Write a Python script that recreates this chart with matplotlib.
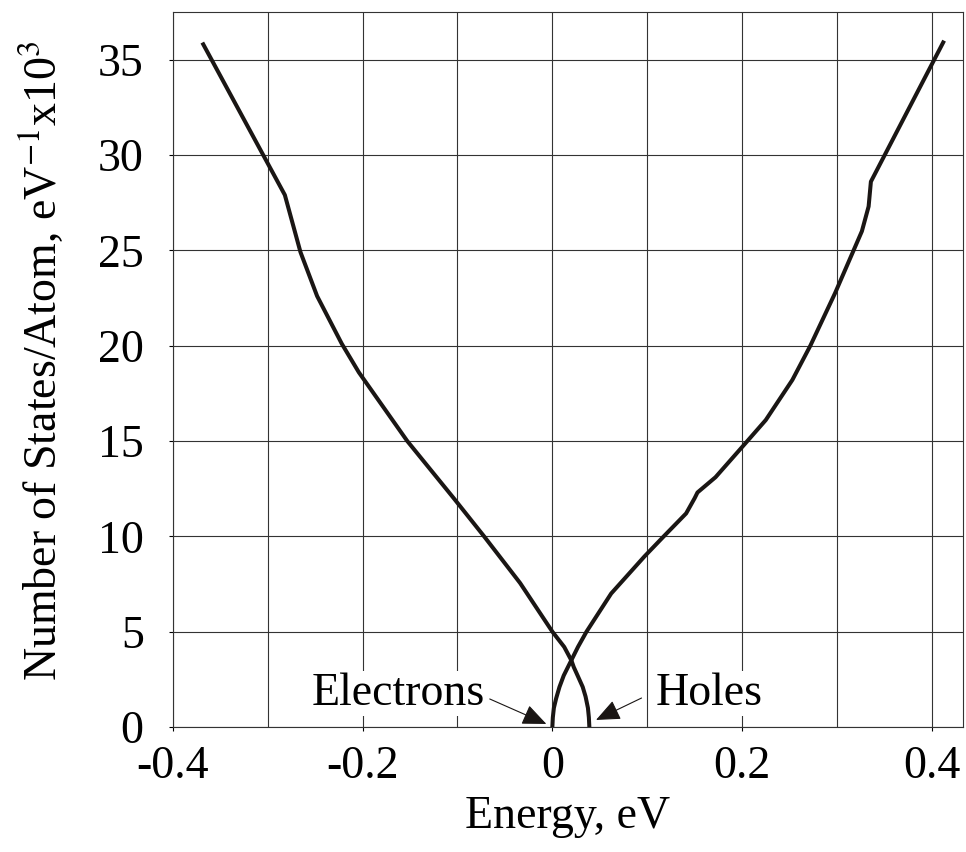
import numpy as np
import matplotlib
matplotlib.use("Agg")
import matplotlib.pyplot as plt

plt.rcParams["font.family"] = ["Liberation Serif", "DejaVu Serif"]
plt.rcParams["mathtext.fontset"] = "stix"

# electrons: starts at E=0, rises to the right
e_energy = [0.0, 0.0005, 0.0016, 0.004, 0.0075, 0.012, 0.0165, 0.020, 0.027,
            0.036, 0.062, 0.097, 0.1165, 0.141, 0.150, 0.153, 0.172, 0.203,
            0.225, 0.253, 0.272, 0.298, 0.3176, 0.3263, 0.3334, 0.3358, 0.412]
e_states = [0.0, 0.5, 1.0, 1.5, 2.1, 2.7, 3.15, 3.5, 4.2,
            5.0, 7.0, 8.94, 9.95, 11.2, 12.0, 12.3, 13.1, 14.85,
            16.1, 18.2, 20.0, 22.75, 25.0, 26.0, 27.3, 28.6, 35.9]

# holes: starts at E~0.039, rises to the left
h_energy = [0.039, 0.0385, 0.0375, 0.035, 0.032, 0.0275, 0.0225, 0.020, 0.0125,
            0.0, -0.034, -0.072, -0.104, -0.153, -0.204, -0.222, -0.248,
            -0.2655, -0.282, -0.368]
h_states = [0.0, 0.5, 1.0, 1.6, 2.1, 2.6, 3.15, 3.5, 4.2,
            5.0, 7.55, 10.0, 12.0, 15.0, 18.6, 20.1, 22.6,
            24.9, 27.9, 35.8]

x_ticks = [-0.4, -0.2, 0, 0.2, 0.4]
x_ticklabels = ["-0.4", "-0.2", "0", "0.2", "0.4"]
y_ticks = [0, 5, 10, 15, 20, 25, 30, 35]

fig = plt.figure(figsize=(9.66, 8.52), dpi=100)
ax = fig.add_axes([0.179, 0.1467, 0.818, 0.8393])

ax.plot(e_energy, e_states, color="#1a1614", lw=2.9, solid_joinstyle="round", zorder=3)
ax.plot(h_energy, h_states, color="#1a1614", lw=2.9, solid_joinstyle="round", zorder=3)

ax.set_xlim(-0.396, 0.433)
ax.set_ylim(0, 37.5)
ax.set_xticks(np.arange(-0.4, 0.45, 0.1), minor=True)
ax.set_xticks(x_ticks)
ax.set_xticklabels(x_ticklabels)
ax.set_yticks(y_ticks)
ax.grid(True, which="both", axis="x", color="#333333", lw=0.8)
ax.grid(True, axis="y", color="#333333", lw=0.8)
ax.set_axisbelow(True)
ax.tick_params(which="both", direction="out", length=3, width=0.8, labelsize=33)
ax.tick_params(axis="x", which="minor", length=0)
ax.tick_params(axis="x", pad=10)
ax.tick_params(axis="y", pad=18)
for s in ax.spines.values():
    s.set_linewidth(0.8)
    s.set_color("#333333")

ax.set_xlabel("Energy, eV", fontsize=33, labelpad=6)
ax.set_ylabel("Number of States/Atom, eV$^{-1}$x10$^{3}$", fontsize=33)
ax.yaxis.set_label_coords(-0.135, 0.513)

ax.text(-0.071, 1.75, "Electrons", fontsize=33, ha="right", va="center",
        bbox=dict(facecolor="white", edgecolor="none", pad=1), zorder=4)
ax.text(0.109, 1.75, "Holes", fontsize=33, ha="left", va="center",
        bbox=dict(facecolor="white", edgecolor="none", pad=1), zorder=4)
arrow = dict(arrowstyle="-|>,head_length=0.75,head_width=0.32", color="#1a1614",
             lw=0.8, shrinkA=0, shrinkB=0, mutation_scale=20)
ax.annotate("", xy=(-0.0063, 0.16), xytext=(-0.066, 1.47), arrowprops=arrow, zorder=5)
ax.annotate("", xy=(0.046, 0.37), xytext=(0.094, 1.52), arrowprops=arrow, zorder=5)

fig.savefig("out.png", dpi=100)
